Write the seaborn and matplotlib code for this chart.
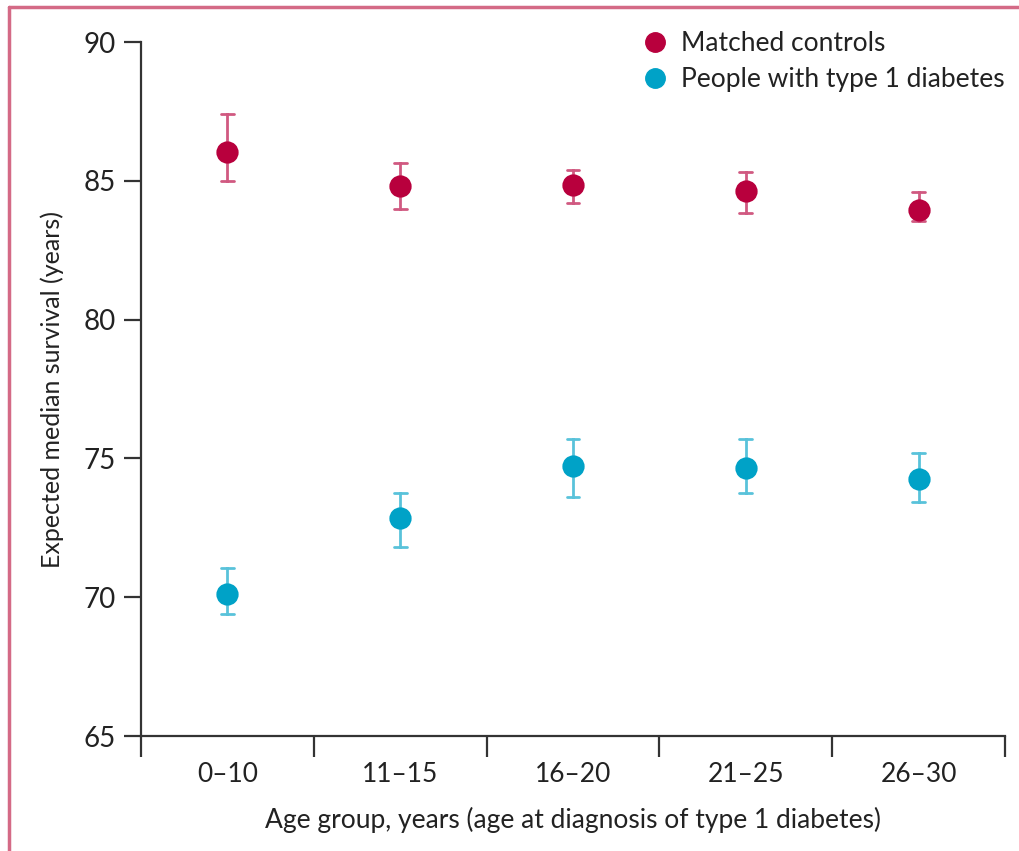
import numpy as np
import pandas as pd
import matplotlib
matplotlib.use("Agg")
import matplotlib.pyplot as plt
import seaborn as sns
from matplotlib.lines import Line2D

groups = ["0–10", "11–15", "16–20", "21–25", "26–30"]
controls_mid = [86.05, 84.8, 84.85, 84.65, 83.95]
controls_lo = [85.0, 84.0, 84.2, 83.85, 83.55]
controls_hi = [87.4, 85.65, 85.4, 85.3, 84.6]
t1d_mid = [70.12, 72.84, 74.72, 74.64, 74.25]
t1d_lo = [69.38, 71.82, 73.62, 73.77, 73.42]
t1d_hi = [71.04, 73.77, 75.70, 75.70, 75.21]
series = ["Matched controls", "People with type 1 diabetes"]
yticks = [65, 70, 75, 80, 85, 90]

colors = {"Matched controls": "#b8003d", "People with type 1 diabetes": "#00a2c7"}

rows = []
for s, lo, mid, hi in [(series[0], controls_lo, controls_mid, controls_hi),
                       (series[1], t1d_lo, t1d_mid, t1d_hi)]:
    for g, a, b, c in zip(groups, lo, mid, hi):
        for v in (a, b, c):
            rows.append({"group": g, "series": s, "value": v})
df = pd.DataFrame(rows)

sns.set_theme(style="white")
plt.rcParams["font.family"] = ["Lato", "DejaVu Sans"]
txt = "#222222"

fig = plt.figure(figsize=(10.2, 8.51), dpi=100)
ax = fig.add_axes([141/1020, 1-736/851, (1005-141)/1020, (736-42)/851])

for s in series:
    sub = df[df["series"] == s]
    sns.pointplot(data=sub, x="group", y="value", order=groups,
                  estimator=np.median, errorbar=lambda v: (v.min(), v.max()),
                  color=colors[s], linestyle="none", marker="o", markersize=14,
                  capsize=0.075, err_kws={"linewidth": 2.0, "alpha": 0.65},
                  ax=ax)

ax.set_ylim(65, 90)
ax.set_xlim(-0.5, 4.5)
ax.set_yticks(yticks)
ax.set_yticklabels([str(t) for t in yticks], fontsize=20, color=txt)
ax.set_xticks(range(len(groups)))
ax.set_xticklabels(groups, fontsize=19, color=txt)
ax.set_xticks(np.arange(-0.5, 5, 1.0), minor=True)
ax.tick_params(axis="x", which="major", bottom=True, length=0, pad=19)
ax.tick_params(axis="x", which="minor", bottom=True, length=15, width=1.6, color="#333333", direction="out")
ax.tick_params(axis="y", which="major", left=True, length=12, width=1.6, color="#333333", direction="out", pad=6)
for side in ["top", "right"]:
    ax.spines[side].set_visible(False)
for side in ["left", "bottom"]:
    ax.spines[side].set_color("#333333")
    ax.spines[side].set_linewidth(1.6)
ax.set_xlabel("Age group, years (age at diagnosis of type 1 diabetes)", fontsize=19, color=txt, labelpad=14)
ax.set_ylabel("Expected median survival (years)", fontsize=18, color=txt, labelpad=14)

handles = [Line2D([0], [0], marker="o", linestyle="none", markersize=14,
                  markerfacecolor=colors[s], markeredgecolor=colors[s]) for s in series]
ax.legend(handles, series, loc="upper right", bbox_to_anchor=(1.027, 1.05), frameon=False,
          fontsize=19, handletextpad=0.0, labelspacing=0.42, labelcolor=txt)

pink = "#d46a86"
fig.add_artist(Line2D([9/1020, 1.0], [1-7/851, 1-7/851], color=pink, linewidth=2.5, transform=fig.transFigure))
fig.add_artist(Line2D([9/1020, 9/1020], [0, 1-7/851], color=pink, linewidth=2.5, transform=fig.transFigure))

fig.savefig("out.png", dpi=100)
